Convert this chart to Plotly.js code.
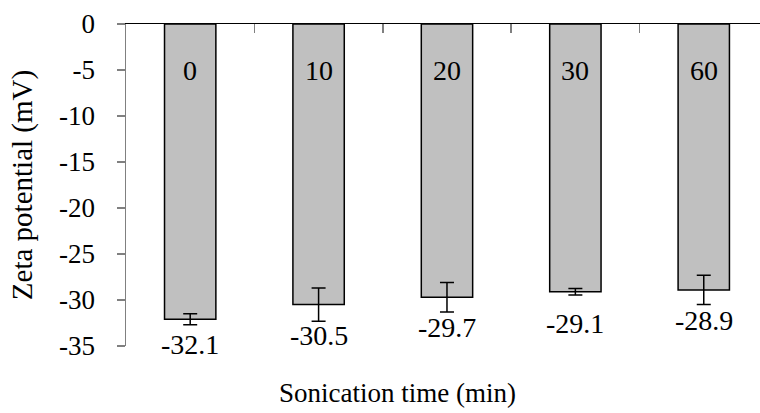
<!DOCTYPE html>
<html>
<head>
<meta charset="utf-8">
<script src="https://cdn.plot.ly/plotly-3.0.1.min.js"></script>
<style>html,body{margin:0;padding:0;background:#fff;}</style>
</head>
<body>
<div id="chart" style="width:760px;height:413px"></div>
<script>
// Data
const sonicationTimes = ['0', '10', '20', '30', '60'];
const zetaPotential = [-32.1, -30.5, -29.7, -29.1, -28.9];
const zetaError = [0.6, 1.8, 1.6, 0.35, 1.6];
const valueLabels = ['-32.1', '-30.5', '-29.7', '-29.1', '-28.9'];
const yTickValues = [0, -5, -10, -15, -20, -25, -30, -35];
const yTickLabels = ['0', '-5', '-10', '-15', '-20', '-25', '-30', '-35'];

// Styling-only pixel nudges for the value labels
const labelShift = [-25, -31, -30, -32, -31];

const ann = [];
for (let i = 0; i < sonicationTimes.length; i++) {
  ann.push({x: i, y: -5, xref: 'x', yref: 'y', text: sonicationTimes[i], showarrow: false,
    font: {family: 'Liberation Serif', size: 28, color: 'black'}, yanchor: 'middle'});
  ann.push({x: i, y: zetaPotential[i], xref: 'x', yref: 'y', text: valueLabels[i], showarrow: false,
    font: {family: 'Liberation Serif', size: 28, color: 'black'}, yanchor: 'middle', yshift: labelShift[i]});
}
ann.push({x: 0.429, y: -0.145, xref: 'paper', yref: 'paper', text: 'Sonication time (min)',
  showarrow: false, font: {family: 'Liberation Serif', size: 27, color: 'black'}, xanchor: 'center', yanchor: 'middle'});

const trace = {
  type: 'bar',
  x: sonicationTimes.map((_, i) => i),
  y: zetaPotential,
  width: 0.4,
  marker: {color: '#c0c0c0', line: {color: '#000000', width: 1.5}},
  error_y: {type: 'data', array: zetaError, visible: true, color: '#000000', thickness: 1.5, width: 7}
};

const layout = {
  width: 760, height: 413,
  margin: {l: 126, r: 0, t: 24, b: 67, pad: 0},
  paper_bgcolor: '#ffffff', plot_bgcolor: '#ffffff',
  showlegend: false,
  xaxis: {
    type: 'linear', range: [-0.5, 4.438], side: 'top',
    showline: true, linecolor: '#000000', linewidth: 1.5,
    showgrid: false, zeroline: false, showticklabels: false,
    tickmode: 'array', tickvals: [-0.5, 0.5, 1.5, 2.5, 3.5],
    ticks: 'inside', ticklen: 9, tickcolor: '#808080', tickwidth: 1.5
  },
  yaxis: {
    range: [-35, 0],
    showline: true, linecolor: '#808080', linewidth: 1.5,
    showgrid: false, zeroline: false,
    tickmode: 'array', tickvals: yTickValues, ticktext: yTickLabels,
    ticks: 'outside', ticklen: 8, tickcolor: '#808080', tickwidth: 1.5,
    ticklabelstandoff: 16,
    tickfont: {family: 'Liberation Serif', size: 27, color: 'black'},
    title: {text: 'Zeta potential (mV)', font: {family: 'Liberation Serif', size: 29, color: 'black'}, standoff: 18}
  },
  annotations: ann
};

Plotly.newPlot('chart', [trace], layout, {staticPlot: true});
</script>
</body>
</html>
